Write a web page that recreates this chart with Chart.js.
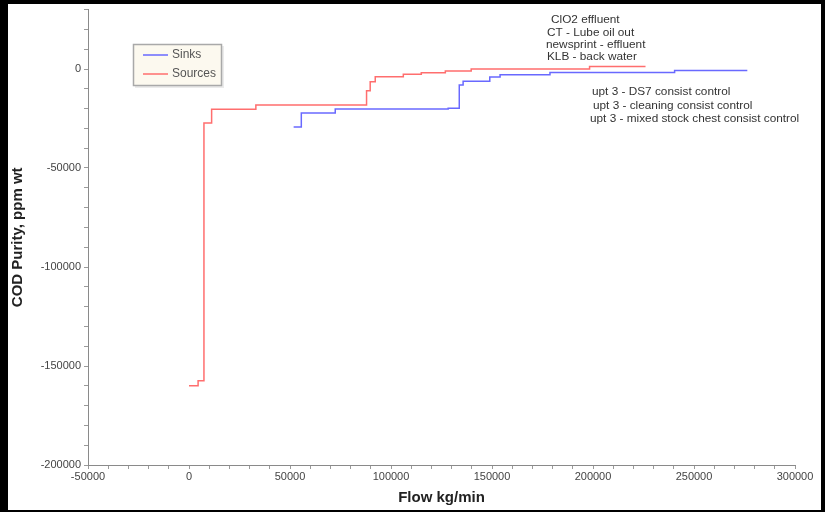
<!DOCTYPE html>
<html>
<head>
<meta charset="utf-8">
<script src="https://cdn.jsdelivr.net/npm/chart.js@4/dist/chart.umd.min.js"></script>
<style>
  html, body { margin: 0; padding: 0; background: #fff; }
  canvas { display: block; }
</style>
</head>
<body>
<canvas id="chart" width="825" height="512"></canvas>
<script>
// Composite purity profiles: step curves of COD purity against cumulative flow
const flowSources   = [0, 4500, 7400, 11200, 33100, 87900, 89700, 92200, 106100, 115000, 126900, 139700, 198300, 226000];
const puritySources = [-160000, -157500, -27300, -20350, -18200, -10960, -6400, -3900, -2700, -1900, -1000, 0, 1200, 1200];

const flowSinks   = [51800, 55600, 72400, 128300, 133800, 135700, 148900, 154000, 178700, 240400, 276400];
const puritySinks = [-29300, -22200, -20200, -19800, -8100, -6200, -4000, -2900, -1800, -750, -750];

const seriesNames = ['Sinks', 'Sources'];

// Axis range and tick spacing
const xMin = -50000, xMax = 300000;
const yMin = -200000, yMax = 30000;
const minorStep = 10000, majorStep = 50000;

// Stream labels written beside the curve ends
const sourceNotes = ['ClO2 effluent', 'CT - Lube oil out', 'newsprint - effluent', 'KLB - back water'];
const sinkNotes = ['upt 3 - DS7 consist control', 'upt 3 - cleaning consist control', 'upt 3 - mixed stock chest consist control'];

// Each value holds from its flow until the next step (horizontal run, then rise)
const toPoints = (xs, ys) => xs.map((x, i) => ({ x, y: ys[i] }));

const FONT = '"Liberation Sans", Arial, sans-serif';
const BLUE = 'rgb(105,105,255)';
const RED = 'rgb(255,110,110)';

const framePlugin = {
  id: 'frame',
  beforeDraw(chart) {
    const { ctx, width, height } = chart;
    ctx.save();
    ctx.fillStyle = '#fff';
    ctx.fillRect(0, 0, width, height);
    ctx.restore();
  },
  afterDraw(chart) {
    const { ctx, width, height } = chart;
    ctx.save();
    ctx.fillStyle = '#000';
    ctx.fillRect(0, 0, 8, height);
    ctx.fillRect(0, 0, width, 4);
    ctx.fillRect(width - 4, 0, 4, height);
    ctx.fillRect(0, height - 2, width, 2);
    ctx.restore();
  }
};

const legendPlugin = {
  id: 'boxLegend',
  afterDatasetsDraw(chart) {
    const { ctx } = chart;
    const bx = 133, by = 44, bw = 89, bh = 42;
    ctx.save();
    ctx.fillStyle = 'rgba(0,0,0,0.08)';
    ctx.fillRect(bx + 2, by + 2, bw, bh);
    ctx.fillStyle = '#fcf9ef';
    ctx.fillRect(bx, by, bw, bh);
    ctx.strokeStyle = '#a9a9a9';
    ctx.lineWidth = 1.5;
    ctx.strokeRect(bx + 0.5, by + 0.5, bw - 1, bh - 1);
    ctx.font = '12px ' + FONT;
    ctx.textBaseline = 'middle';
    chart.data.datasets.forEach((ds, i) => {
      const y = by + 11 + i * 19;
      ctx.strokeStyle = ds.borderColor;
      ctx.lineWidth = 1.5;
      ctx.beginPath();
      ctx.moveTo(bx + 10, y);
      ctx.lineTo(bx + 35, y);
      ctx.stroke();
      ctx.fillStyle = '#555';
      ctx.fillText(ds.label, bx + 39, y);
    });
    ctx.restore();
  }
};

const notesPlugin = {
  id: 'notes',
  afterDatasetsDraw(chart) {
    const { ctx } = chart;
    ctx.save();
    ctx.font = '11.8px ' + FONT;
    ctx.fillStyle = '#333';
    ctx.textBaseline = 'middle';
    const srcX = [551, 547, 546, 547];
    sourceNotes.forEach((t, i) => ctx.fillText(t, srcX[i], 20 + i * 12.4));
    const snkX = [592, 593, 590];
    sinkNotes.forEach((t, i) => ctx.fillText(t, snkX[i], 92 + i * 13.5));
    ctx.restore();
  }
};

const tickLabel = v => (v % majorStep === 0 ? String(v) : '');

new Chart(document.getElementById('chart'), {
  type: 'line',
  data: {
    datasets: [
      {
        label: seriesNames[0],
        data: toPoints(flowSinks, puritySinks),
        borderColor: BLUE,
        borderWidth: 1.5,
        stepped: 'before',
        pointRadius: 0,
        fill: false
      },
      {
        label: seriesNames[1],
        data: toPoints(flowSources, puritySources),
        borderColor: RED,
        borderWidth: 1.5,
        stepped: 'before',
        pointRadius: 0,
        fill: false
      }
    ]
  },
  options: {
    responsive: false,
    animation: false,
    layout: { padding: { left: 8, top: 8, right: 30, bottom: 2 } },
    plugins: {
      legend: { display: false },
      tooltip: { enabled: false }
    },
    scales: {
      x: {
        type: 'linear',
        min: xMin,
        max: xMax,
        afterFit: s => { s.height = 45; },
        ticks: {
          stepSize: minorStep,
          autoSkip: false,
          maxRotation: 0,
          padding: 1,
          color: '#444',
          font: { family: FONT, size: 11 },
          callback: tickLabel
        },
        grid: { drawOnChartArea: false, drawTicks: true, tickLength: 4, color: '#9a9a9a' },
        border: { color: '#8a8a8a', width: 1 },
        title: {
          display: true,
          text: 'Flow kg/min',
          color: '#222',
          font: { family: FONT, size: 15, weight: 'bold' },
          padding: { top: 2, bottom: 3 }
        }
      },
      y: {
        type: 'linear',
        min: yMin,
        max: yMax,
        afterFit: s => { s.width = 80; },
        ticks: {
          stepSize: minorStep,
          autoSkip: false,
          padding: 3,
          color: '#444',
          font: { family: FONT, size: 11 },
          callback: tickLabel
        },
        grid: { drawOnChartArea: false, drawTicks: true, tickLength: 4, color: '#9a9a9a' },
        border: { color: '#8a8a8a', width: 1 },
        title: {
          display: true,
          text: 'COD Purity, ppm wt',
          color: '#222',
          font: { family: FONT, size: 15, weight: 'bold' },
          padding: { top: 1, bottom: 2 }
        }
      }
    }
  },
  plugins: [framePlugin, legendPlugin, notesPlugin]
});
</script>
</body>
</html>
